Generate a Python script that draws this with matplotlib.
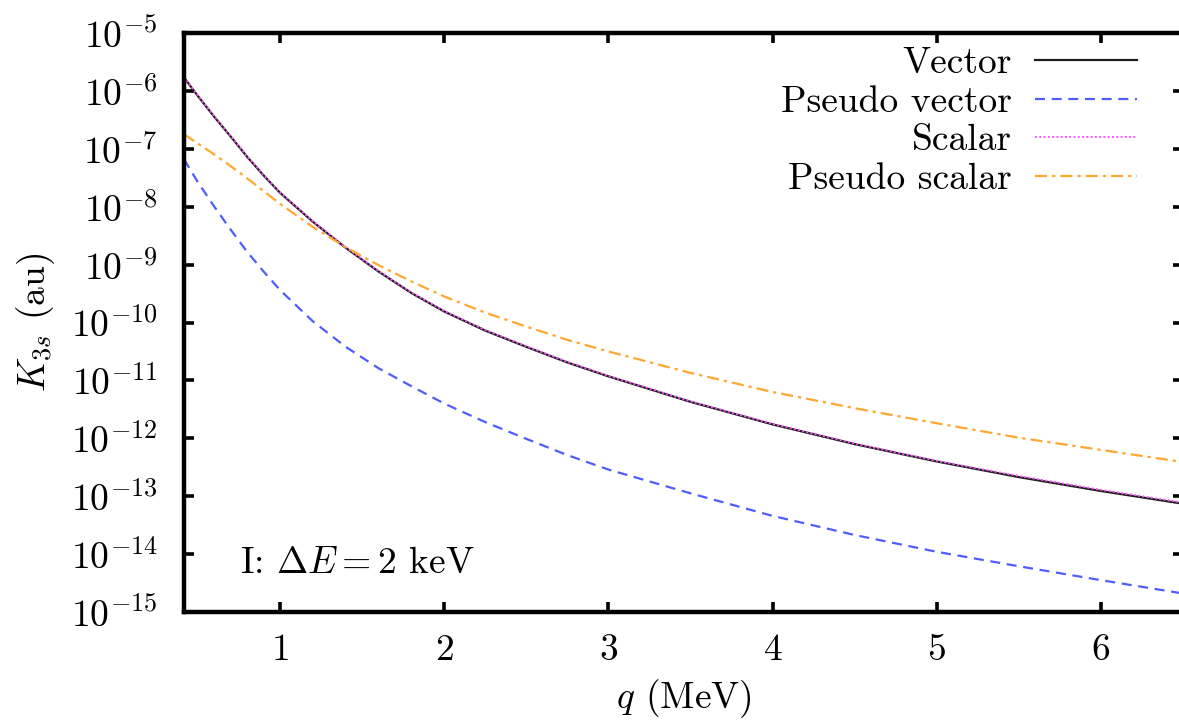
import numpy as np
import matplotlib
matplotlib.use("Agg")
import matplotlib.pyplot as plt
from matplotlib.ticker import LogLocator, NullLocator, FixedLocator

# Momentum transfer q (MeV)
q = [0.415, 0.5, 0.6, 0.7, 0.8, 0.9, 1.0, 1.2, 1.4, 1.6, 1.8, 2.0, 2.25, 2.5,
     2.75, 3.0, 3.5, 4.0, 4.5, 5.0, 5.5, 6.0, 6.5]

# log10 of K_3s (au) for each coupling
log_vector = [-5.77, -6.09, -6.45, -6.79, -7.14, -7.46, -7.76, -8.26, -8.71,
              -9.12, -9.49, -9.81, -10.14, -10.42, -10.69, -10.93, -11.37,
              -11.76, -12.10, -12.40, -12.67, -12.91, -13.13]
log_pseudo_vector = [-7.18, -7.58, -8.00, -8.40, -8.78, -9.12, -9.44, -9.98,
                     -10.42, -10.79, -11.10, -11.40, -11.72, -12.01, -12.29,
                     -12.54, -12.95, -13.34, -13.67, -13.96, -14.21, -14.45,
                     -14.68]
log_scalar = [-5.76, -6.08, -6.44, -6.78, -7.13, -7.45, -7.75, -8.25, -8.70,
              -9.11, -9.48, -9.80, -10.13, -10.41, -10.68, -10.92, -11.36,
              -11.75, -12.09, -12.39, -12.65, -12.89, -13.11]
log_pseudo_scalar = [-6.75, -6.91, -7.10, -7.30, -7.51, -7.73, -7.95, -8.35,
                     -8.70, -9.01, -9.29, -9.55, -9.83, -10.07, -10.30, -10.50,
                     -10.87, -11.20, -11.48, -11.74, -11.99, -12.20, -12.41]

labels = ["Vector", "Pseudo vector", "Scalar", "Pseudo scalar"]
x_ticks = [1, 2, 3, 4, 5, 6]

FS = 27
plt.rcParams["font.family"] = "serif"
plt.rcParams["font.serif"] = ["cmr10"]
plt.rcParams["mathtext.fontset"] = "cm"
plt.rcParams["axes.formatter.use_mathtext"] = True
plt.rcParams["font.size"] = FS

W, H = 1179, 723
fig = plt.figure(figsize=(W / 100, H / 100), dpi=100)
left, right, top, bottom = 184, 1183, 33, 612
ax = fig.add_axes([left / W, (H - bottom) / H, (right - left) / W, (bottom - top) / H])

qa = np.array(q)
ax.plot(qa, 10.0 ** np.array(log_vector), color="#1e1e1e", lw=1.6,
        label=labels[0])
ax.plot(qa, 10.0 ** np.array(log_pseudo_vector), color="#4f5cff", lw=1.6,
        linestyle=(0, (4.5, 3)), label=labels[1])
ax.plot(qa, 10.0 ** np.array(log_scalar), color="#ff55ff", lw=1.4,
        linestyle=(0, (1, 1.2)), label=labels[2])
ax.plot(qa, 10.0 ** np.array(log_pseudo_scalar), color="#ffa733", lw=1.6,
        linestyle=(0, (5.5, 2.2, 1.5, 2.2)), label=labels[3])

ax.set_yscale("log")
ax.set_xlim(0.415, 6.5)
ax.set_ylim(1e-15, 1e-5)
ax.yaxis.set_major_locator(LogLocator(base=10, numticks=20))
ax.yaxis.set_minor_locator(NullLocator())
ax.xaxis.set_major_locator(FixedLocator(x_ticks))

for s in ax.spines.values():
    s.set_linewidth(3.2)
ax.tick_params(axis="both", which="major", direction="in", length=7,
               width=2.6, top=True, right=True, labelsize=FS)
ax.tick_params(axis="y", pad=19)
ax.tick_params(axis="x", pad=16)

ax.set_xlabel(r"$q$ (MeV)", fontsize=FS)
ax.set_ylabel(r"$K_{3s}$ (au)", fontsize=FS)
ax.xaxis.set_label_coords(0.5, -0.113)
ax.yaxis.set_label_coords(-0.127, 0.5)

ax.text(0.056, 0.067, r"I: $\Delta E = 2$ keV", transform=ax.transAxes,
        fontsize=FS, va="baseline", ha="left")

leg = ax.legend(loc="upper right",
                bbox_to_anchor=((1137 - left) / (right - left),
                                (bottom - 47) / (bottom - top)),
                frameon=False, markerfirst=False, handlelength=2.72,
                handletextpad=0.62, borderaxespad=0, borderpad=0,
                labelspacing=0.14, fontsize=FS)
for t in leg.get_texts():
    t.set_ha("right")
# right-align the legend texts within their column
leg._legend_box.align = "right"

fig.savefig("out.png", dpi=100)
